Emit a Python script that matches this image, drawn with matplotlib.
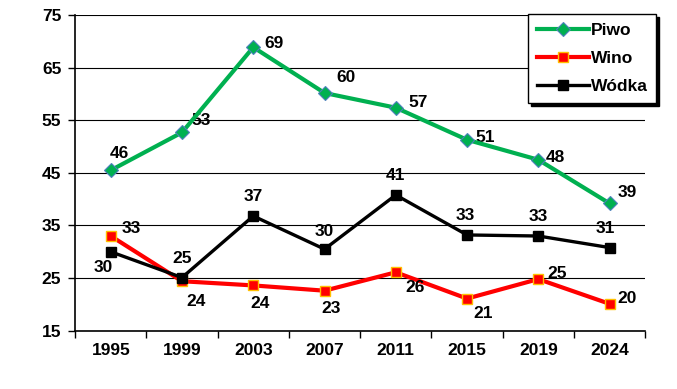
import matplotlib.pyplot as plt

plt.rcParams['font.family'] = ['Liberation Sans', 'DejaVu Sans']
plt.rcParams['font.weight'] = 'bold'

years = ['1995', '1999', '2003', '2007', '2011', '2015', '2019', '2024']
piwo = [45.5, 52.7, 68.9, 60.2, 57.4, 51.3, 47.5, 39.2]
wino = [33.0, 24.4, 23.6, 22.6, 26.1, 21.1, 24.8, 20.1]
wodka = [30.0, 25.1, 36.8, 30.5, 40.8, 33.2, 33.0, 30.8]
piwo_lab = ['46', '53', '69', '60', '57', '51', '48', '39']
wino_lab = ['33', '24', '24', '23', '26', '21', '25', '20']
wodka_lab = ['30', '25', '37', '30', '41', '33', '33', '31']

# label offsets in pixels (dx, dy) from each point
piwo_off = [(9, 17), (19, 12), (21, 4), (21, 15), (22, 5), (18, 2), (17, 2), (18, 11)]
wino_off = [(20, 8), (14, -20), (7, -18), (7, -18), (19, -15), (16, -15), (19, 6), (18, 5)]
wodka_off = [(-8, -16), (0, 19), (0, 20), (0, 18), (0, 19), (-2, 19), (0, 20), (-4, 19)]

fs = 12.5

fig = plt.figure(figsize=(6.77, 3.89), dpi=100)
ax = fig.add_axes([0.111, 0.150, 0.842, 0.811])

x = list(range(len(years)))
ax.plot(x, piwo, color='#00B050', lw=3, marker='D', ms=7,
        mfc='#00B050', mec='#4F81BD', mew=0.8, label='Piwo', zorder=4)
ax.plot(x, wino, color='#FF0000', lw=3, marker='s', ms=7,
        mfc='#FF0000', mec='#FFC000', mew=1.0, label='Wino', zorder=3)
ax.plot(x, wodka, color='black', lw=2.4, marker='s', ms=7,
        mfc='black', mec='black', label='Wódka', zorder=3)

for vals, labs, offs in [(piwo, piwo_lab, piwo_off), (wino, wino_lab, wino_off),
                         (wodka, wodka_lab, wodka_off)]:
    for xi, v, t, (dx, dy) in zip(x, vals, labs, offs):
        ax.annotate(t, (xi, v), xytext=(dx, dy), textcoords='offset pixels',
                    ha='center', va='center', fontsize=fs, fontweight='bold')

ax.set_xlim(-0.5, len(years) - 0.5)
ax.set_ylim(15, 75)
ax.set_yticks(range(15, 76, 10))
ax.set_xticks([i - 0.5 for i in range(len(years) + 1)])
ax.set_xticklabels([])
ax.set_xticks(x, minor=True)
ax.set_xticklabels(years, minor=True)
ax.tick_params(axis='x', which='minor', length=0, pad=9, labelsize=fs)
ax.tick_params(axis='x', which='major', length=5, width=1, direction='out')
ax.tick_params(axis='y', length=5, width=1, direction='out', labelsize=fs, pad=5)
ax.grid(axis='y', color='black', lw=0.8)
ax.set_axisbelow(True)
for s in ['top', 'right']:
    ax.spines[s].set_visible(False)
for s in ['left', 'bottom']:
    ax.spines[s].set_linewidth(1.2)

leg = fig.legend(loc='upper left', bbox_to_anchor=(0.780, 0.964), fontsize=fs,
                 frameon=True, fancybox=False, shadow={'color': 'black', 'alpha': 1},
                 edgecolor='black', framealpha=1, handlelength=3.0,
                 borderpad=0.5, labelspacing=0.75, handletextpad=0.1,
                 borderaxespad=0)
leg.get_frame().set_linewidth(1.0)

fig.savefig('out.png', dpi=100)
